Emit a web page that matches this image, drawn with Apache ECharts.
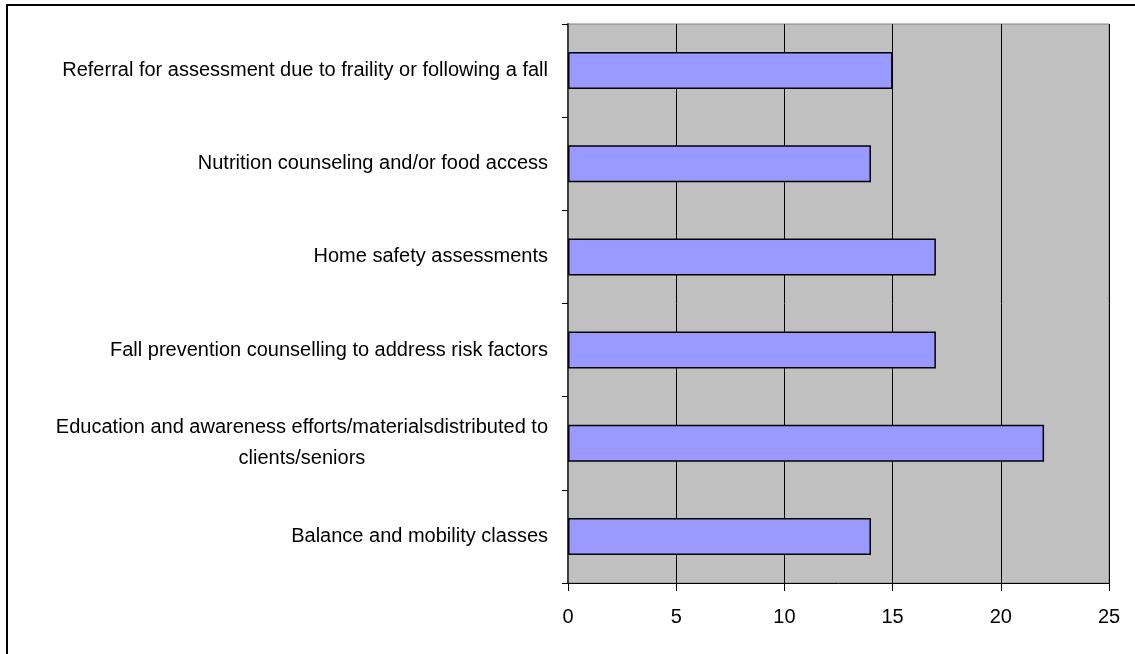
<!DOCTYPE html>
<html>
<head>
<meta charset="utf-8">
<script src="https://cdn.jsdelivr.net/npm/echarts@6/dist/echarts.min.js"></script>
<style>
    html, body {margin: 0; padding: 0; background: #fff;}
    #chart {width: 1135px; height: 654px;}
</style>
</head>
<body>
<div id="chart"></div>
<script>
// categories listed bottom to top, as the y axis draws them
const categories = [
    'Balance and mobility classes',
    'Education and awareness efforts/materialsdistributed to\nclients/seniors',
    'Fall prevention counselling to address risk factors',
    'Home safety assessments',
    'Nutrition counseling and/or food access',
    'Referral for assessment due to fraility or following a fall'
];
const values = [14, 22, 17, 17, 14, 15];
const xTicks = {min: 0, max: 25, interval: 5};

const chartDom = document.getElementById('chart');
const myChart = echarts.init(chartDom);

const option = {
    animation: false,
    textStyle: {fontFamily: 'Liberation Sans, Arial, sans-serif'},
    graphic: [{
        type: 'rect',
        shape: {x: 7, y: 5, width: 1140, height: 660},
        style: {fill: 'none', stroke: '#000', lineWidth: 2},
        silent: true
    }],
    grid: {
        left: 568,
        right: 26,
        top: 24,
        bottom: 71,
        show: true,
        backgroundColor: '#c0c0c0',
        borderColor: '#808080',
        borderWidth: 1
    },
    xAxis: {
        type: 'value',
        min: xTicks.min,
        max: xTicks.max,
        interval: xTicks.interval,
        axisLine: {show: true, lineStyle: {color: '#000', width: 1}},
        axisTick: {show: true, length: 8, lineStyle: {color: '#000'}},
        splitLine: {show: true, lineStyle: {color: '#000', width: 1}},
        axisLabel: {color: '#000', fontSize: 20, margin: 24}
    },
    yAxis: {
        type: 'category',
        data: categories,
        axisLine: {show: true, lineStyle: {color: '#404040', width: 2}},
        axisTick: {show: true, length: 6, alignWithLabel: false, lineStyle: {color: '#000'}},
        axisLabel: {
            color: '#000',
            fontSize: 20,
            margin: 20,
            lineHeight: 31,
            formatter: function (v) {
                return v.split('\n').map(s => '{c|' + s + '}').join('\n');
            },
            rich: {
                c: {align: 'center', fontSize: 20, color: '#000', lineHeight: 31}
            }
        }
    },
    series: [{
        type: 'bar',
        data: values,
        barWidth: 37,
        itemStyle: {color: '#9999ff', borderColor: '#000', borderWidth: 1.5}
    }]
};

option && myChart.setOption(option);
</script>
</body>
</html>
